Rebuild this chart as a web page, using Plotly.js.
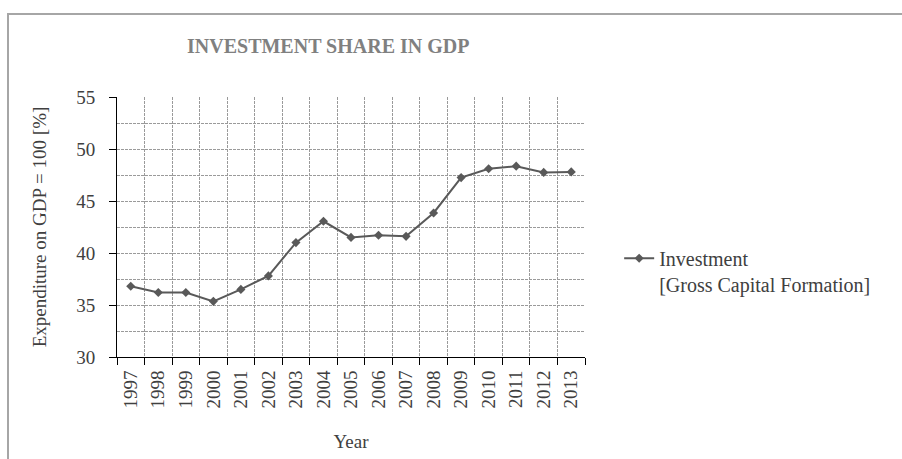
<!DOCTYPE html>
<html>
<head>
<meta charset="utf-8">
<script src="https://cdn.plot.ly/plotly-3.0.1.min.js"></script>
<style>
  html, body { margin: 0; padding: 0; overflow: hidden; background: #fff; }
  #wrap { position: relative; width: 902px; height: 459px; overflow: hidden; }
  #chart { width: 902px; height: 459px; }
  #frame { position: absolute; left: 7px; top: 13px; width: 1000px; height: 1000px;
           border: 2px solid #a6a6a6; pointer-events: none; box-sizing: border-box; }
</style>
</head>
<body>
<div id="wrap">
  <div id="chart"></div>
  <div id="frame"></div>
</div>
<script>
const years = ['1997','1998','1999','2000','2001','2002','2003','2004','2005','2006','2007','2008','2009','2010','2011','2012','2013'];
const investment = [36.8, 36.2, 36.2, 35.35, 36.5, 37.8, 41.0, 43.05, 41.5, 41.7, 41.6, 43.85, 47.25, 48.1, 48.35, 47.75, 47.8];
const seriesName = 'Investment<br>[Gross Capital Formation]';
const chartTitle = 'INVESTMENT SHARE IN GDP';
const xTitle = 'Year';
const yTitle = 'Expenditure on GDP = 100 [%]';

const font = 'Liberation Serif, Times New Roman, serif';
const textColor = '#404040';
const gridColor = '#9a9a9a';

const trace = {
  x: years,
  y: investment,
  type: 'scatter',
  mode: 'lines+markers',
  name: seriesName,
  line: { color: '#595959', width: 2 },
  marker: { symbol: 'diamond', size: 7, color: '#595959' },
  showlegend: true
};

const layout = {
  width: 902,
  height: 459,
  margin: { l: 117, r: 317, t: 97, b: 102 },
  paper_bgcolor: '#ffffff',
  plot_bgcolor: '#ffffff',
  font: { family: font, size: 19, color: textColor },
  title: {
    text: '<b>' + chartTitle + '</b>',
    font: { family: font, size: 20, color: '#808080' },
    x: 187 / 902, xanchor: 'left', xref: 'container',
    y: 1 - 46 / 459, yanchor: 'middle', yref: 'container'
  },
  showlegend: true,
  legend: {
    x: 1.073, xanchor: 'left',
    y: 0.455, yanchor: 'top',
    valign: 'top',
    bgcolor: 'rgba(0,0,0,0)',
    font: { family: font, size: 20, color: textColor }
  },
  xaxis: {
    type: 'category',
    range: [-0.5, 16.5],
    tickson: 'boundaries',
    ticks: 'outside',
    ticklen: 7,
    tickcolor: '#000',
    tickangle: -90,
    ticklabelstandoff: 5,
    showline: true,
    linecolor: '#000',
    linewidth: 1,
    showgrid: true,
    gridcolor: gridColor,
    griddash: '3px,1px',
    gridwidth: 1,
    zeroline: false,
    tickfont: { family: font, size: 19, color: textColor },
    title: { text: xTitle, font: { family: font, size: 19, color: textColor }, standoff: 27 },
    fixedrange: true
  },
  yaxis: {
    range: [30, 55],
    dtick: 5,
    tick0: 30,
    ticks: 'outside',
    ticklen: 7,
    tickcolor: '#000',
    ticklabelstandoff: 10,
    showline: true,
    linecolor: '#000',
    linewidth: 1,
    showgrid: true,
    gridcolor: gridColor,
    griddash: '3px,1px',
    gridwidth: 1,
    zeroline: false,
    minor: { dtick: 2.5, showgrid: true, gridcolor: gridColor, griddash: '3px,1px', gridwidth: 1, ticks: '' },
    tickfont: { family: font, size: 19, color: textColor },
    title: { text: yTitle, font: { family: font, size: 19, color: textColor }, standoff: 24 },
    fixedrange: true
  }
};

Plotly.newPlot('chart', [trace], layout, { displayModeBar: false, staticPlot: true });
</script>
</body>
</html>
